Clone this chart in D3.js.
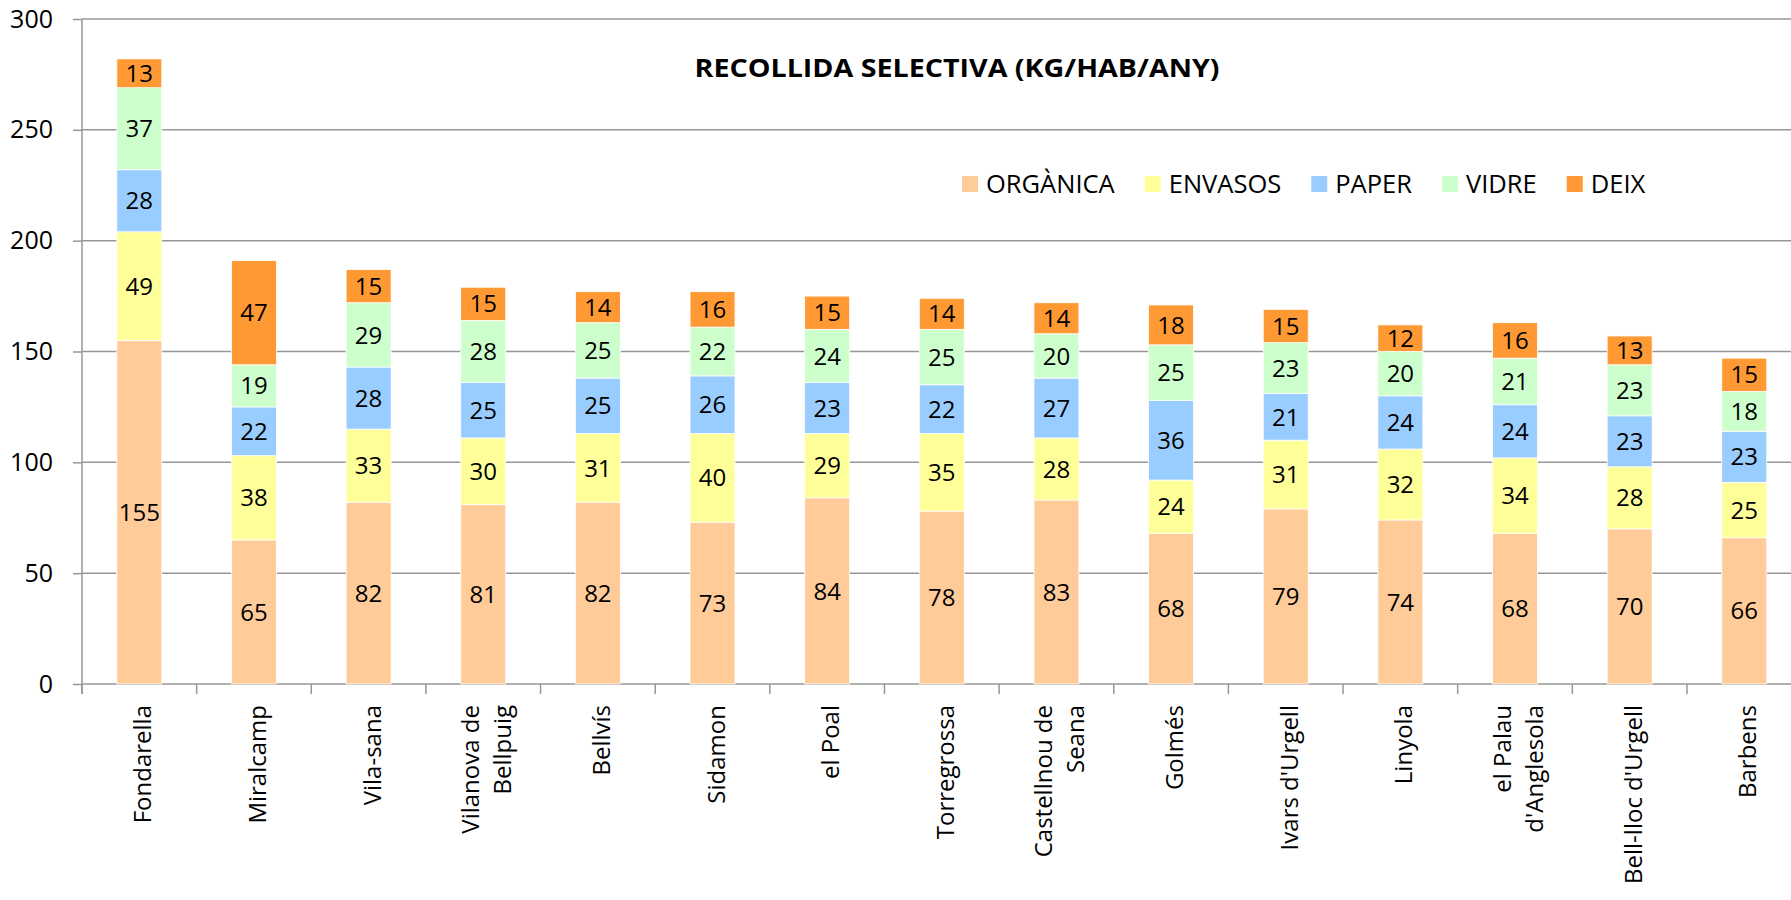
<!DOCTYPE html>
<html>
<head>
<meta charset="utf-8">
<script src="https://cdn.jsdelivr.net/npm/d3@7"></script>
<style>
  body { margin: 0; background: #fff; }
  text { font-family: "Open Sans", "Noto Sans", sans-serif; }
</style>
</head>
<body>
<script>
// municipis (les etiquetes amb salt de línia van en diverses línies)
const towns = ["Fondarella", "Miralcamp", "Vila-sana", "Vilanova de\nBellpuig", "Bellvís", "Sidamon",
    "el Poal", "Torregrossa", "Castellnou de\nSeana", "Golmés", "Ivars d'Urgell", "Linyola",
    "el Palau\nd'Anglesola", "Bell-lloc d'Urgell", "Barbens"];

const series = ["ORGÀNICA", "ENVASOS", "PAPER", "VIDRE", "DEIX"];
const colors = ["#ffcc99", "#ffff99", "#99ccff", "#ccffcc", "#ff9933"];

const organica = [155, 65, 82, 81, 82, 73, 84, 78, 83, 68, 79, 74, 68, 70, 66];
const envasos  = [49, 38, 33, 30, 31, 40, 29, 35, 28, 24, 31, 32, 34, 28, 25];
const paper    = [28, 22, 28, 25, 25, 26, 23, 22, 27, 36, 21, 24, 24, 23, 23];
const vidre    = [37, 19, 29, 28, 25, 22, 24, 25, 20, 25, 23, 20, 21, 23, 18];
const deix     = [13, 47, 15, 15, 14, 16, 15, 14, 14, 18, 15, 12, 16, 13, 15];

const yTicks = [0, 50, 100, 150, 200, 250, 300];
const title = "RECOLLIDA SELECTIVA (KG/HAB/ANY)";

const width = 1791;
const height = 900;
const left = 82;
const step = 114.64;

const table = towns.map((t, i) => ({
    town: t,
    "ORGÀNICA": organica[i], "ENVASOS": envasos[i], "PAPER": paper[i], "VIDRE": vidre[i], "DEIX": deix[i]
}));

const svg = d3.select('body')
    .append('svg')
    .attr('width', width)
    .attr('height', height);

svg.append('rect').attr('width', width).attr('height', height).attr('fill', '#fff');

const x = d3.scaleBand()
    .domain(towns)
    .range([left, left + step * towns.length])
    .paddingInner(0.6075)
    .paddingOuter(0.6075 / 2);

const y = d3.scaleLinear()
    .domain([0, 300])
    .range([684, 19]);

// gridlines
svg.append('g')
    .selectAll('line')
    .data(yTicks)
    .enter()
    .append('line')
    .attr('x1', left)
    .attr('x2', width)
    .attr('y1', d => y(d))
    .attr('y2', d => y(d))
    .attr('stroke', '#979797')
    .attr('stroke-width', 1.5);

// y axis
const yAxis = svg.append('g')
    .attr('transform', 'translate(' + left + ',0)')
    .call(d3.axisLeft(y).tickValues(yTicks).tickSize(9).tickSizeOuter(0).tickPadding(20));
yAxis.select('.domain').remove();
yAxis.selectAll('line').attr('stroke', '#979797').attr('stroke-width', 1.5);
yAxis.selectAll('text').style('font-size', '25px').attr('fill', '#000')
    .style('font-family', '"Open Sans", sans-serif');

svg.append('line')
    .attr('x1', left).attr('x2', left)
    .attr('y1', y(300)).attr('y2', y(0) + 10)
    .attr('stroke', '#979797').attr('stroke-width', 1.5);

// category ticks between bars
svg.append('g')
    .selectAll('line')
    .data(d3.range(towns.length + 1))
    .enter()
    .append('line')
    .attr('x1', i => x.range()[0] + i * x.step())
    .attr('x2', i => x.range()[0] + i * x.step())
    .attr('y1', y(0))
    .attr('y2', y(0) + 10)
    .attr('stroke', '#979797')
    .attr('stroke-width', 1.5);

// stacked bars
const stacked = d3.stack().keys(series)(table);

const layers = svg.append('g')
    .selectAll('g')
    .data(stacked)
    .enter()
    .append('g')
    .attr('fill', (d, i) => colors[i]);

layers.selectAll('rect')
    .data(d => d)
    .enter()
    .append('rect')
    .attr('x', d => x(d.data.town))
    .attr('width', x.bandwidth())
    .attr('y', d => y(d[1]))
    .attr('height', d => y(d[0]) - y(d[1]))
    .attr('stroke', '#fff')
    .attr('stroke-width', 0.8);

layers.selectAll('text')
    .data(d => d)
    .enter()
    .append('text')
    .attr('x', d => x(d.data.town) + x.bandwidth() / 2)
    .attr('y', d => (y(d[0]) + y(d[1])) / 2)
    .attr('dy', '0.36em')
    .attr('text-anchor', 'middle')
    .style('font-size', '24px')
    .attr('fill', '#000')
    .text(d => d[1] - d[0]);

// x labels, rotated
const xl = svg.append('g')
    .selectAll('g')
    .data(towns)
    .enter()
    .append('g')
    .attr('transform', d => 'translate(' + (x(d) + x.bandwidth() / 2) + ',' + (y(0) + 21) + ')rotate(-90)');

xl.each(function (d) {
    const lines = d.split('\n');
    lines.forEach((l, i) => {
        d3.select(this).append('text')
            .attr('x', 0)
            .attr('y', (i - (lines.length - 1) / 2) * 32 + 12)
            .attr('text-anchor', 'end')
            .style('font-size', '24px')
            .attr('fill', '#000')
            .text(l);
    });
});

// title
svg.append('text')
    .attr('x', 957)
    .attr('y', 77)
    .attr('text-anchor', 'middle')
    .style('font-size', '25px')
    .style('font-weight', 'bold')
    .attr('textLength', 525)
    .attr('lengthAdjust', 'spacingAndGlyphs')
    .text(title);

// legend
const legend = svg.append('g');
let lx = 962;
series.forEach((s, i) => {
    legend.append('rect')
        .attr('x', lx).attr('y', 176)
        .attr('width', 16).attr('height', 16)
        .attr('fill', colors[i]);
    const t = legend.append('text')
        .attr('x', lx + 24)
        .attr('y', 193)
        .style('font-size', '25.5px')
        .attr('fill', '#000')
        .text(s);
    const w = t.node().getComputedTextLength();
    lx += 24 + w + 30;
});
</script>
</body>
</html>
